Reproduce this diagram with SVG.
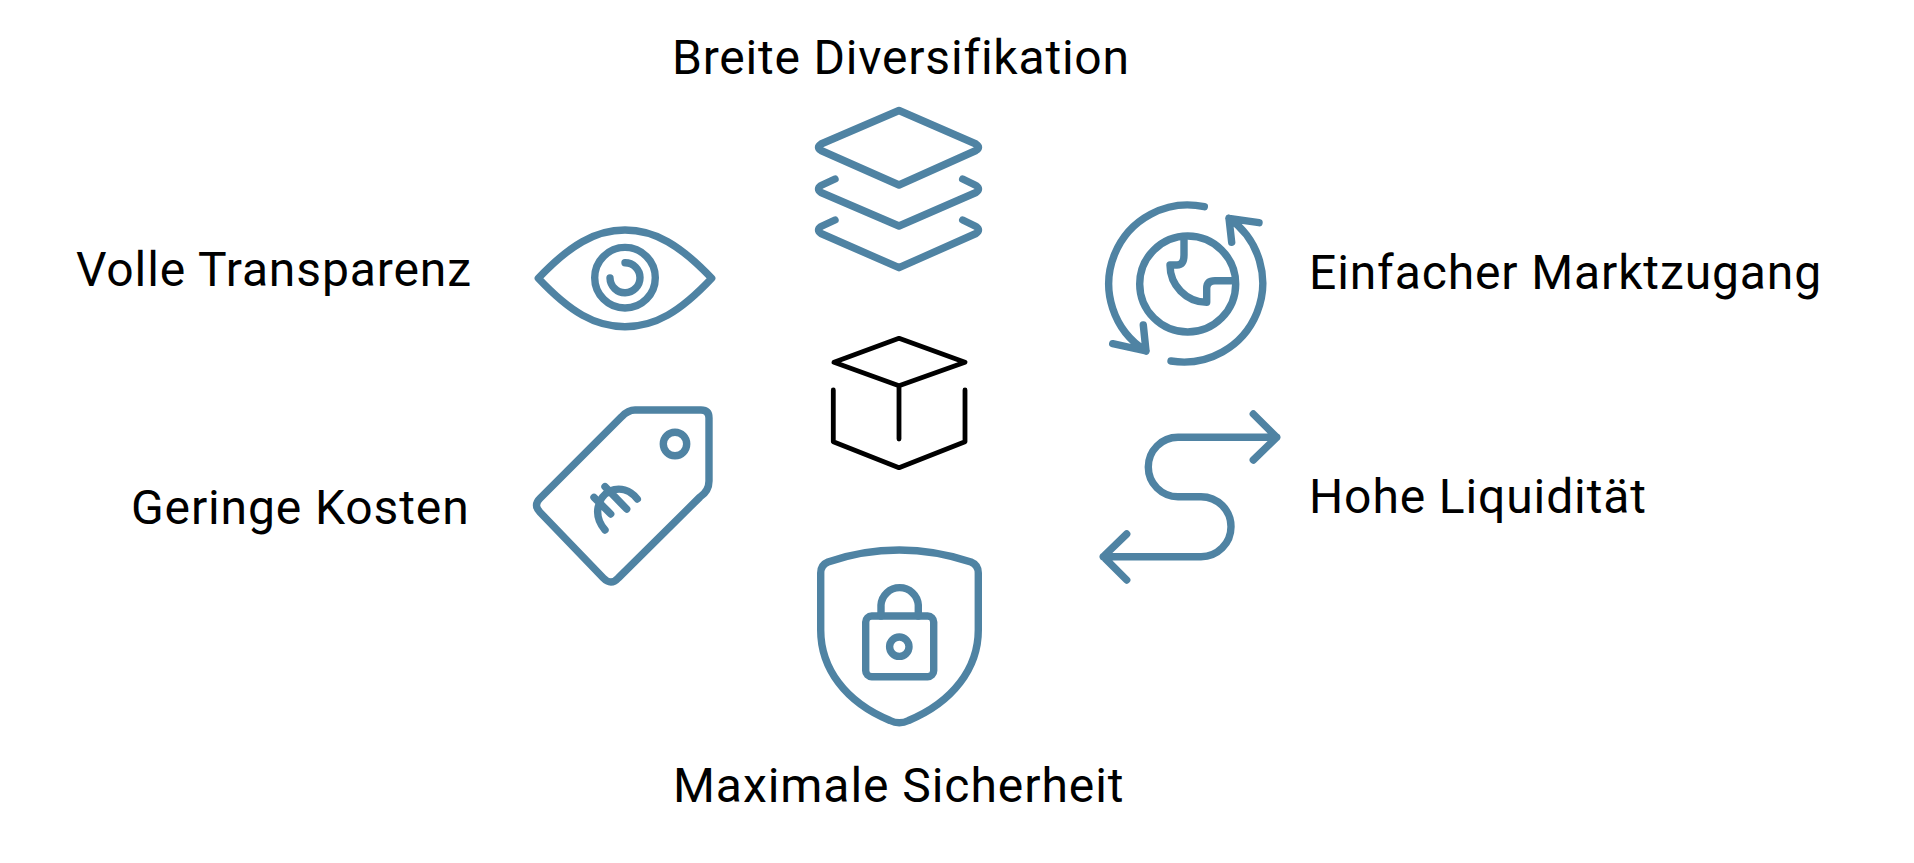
<svg xmlns="http://www.w3.org/2000/svg" width="1914" height="863" viewBox="0 0 1914 863">
<style>
.i{fill:none;stroke:#4F83A3;stroke-width:7.4;stroke-linecap:round;stroke-linejoin:round}
.c{fill:none;stroke:#000;stroke-width:4.8;stroke-linecap:round;stroke-linejoin:round}
text{font-family:Roboto,"Liberation Sans",sans-serif;font-size:48px;letter-spacing:.88px;fill:#000}
</style>
<rect width="1914" height="863" fill="#fff"/>
<g id="center-cube"><path class="c" d="M899 338.3L965 362.3L899 385.7L834 362.3ZM899 385.7V439M833.3 390V441.7L899 467.7L965 441.7V390"/></g>
<g id="breite-diversifikation">
<path class="i" d="M899 110.5L976 144Q981 147.3 976 150.5L899 185L821 150.5Q816 147.3 821 144Z"/>
<path class="i" d="M835 179L821 185.5Q816 189 821 192.5L899 226L976 192.5Q981 189 976 185.5L962.7 179"/>
<path class="i" d="M835 220L821 226.5Q816 230 821 233.5L899 267.7L976 233.5Q981 230 976 226.5L962.7 220"/>
<text x="672" y="74" style="letter-spacing:.8px">Breite Diversifikation</text>
</g>
<g id="einfacher-marktzugang">
<circle class="i" cx="1187.7" cy="284" r="48"/>
<path class="i" d="M1204.3 206.7A79 79 0 0 0 1146 351M1112.7 343.7L1146 351L1143.3 325"/>
<path class="i" d="M1171 361A79 79 0 0 0 1229 218.3M1259 222.7L1229 218.3L1231.7 242.3"/>
<path class="i" d="M1184 240V255Q1184 265 1177 265H1170C1170 285 1186 302.3 1206.7 302.3V288.3Q1206.7 280.7 1215 280.7H1233.3"/>
<text x="1309" y="289">Einfacher Marktzugang</text>
</g>
<g id="hohe-liquiditaet">
<path class="i" d="M1276.7 437.3H1178A29.7 29.7 0 0 0 1178 496.7H1201A30 30 0 0 1 1201 556.7H1103.3M1253.3 414L1276.7 437.3L1253.3 460M1126.7 534L1103.3 556.7L1126.7 580"/>
<text x="1309" y="513">Hohe Liquidität</text>
</g>
<g id="maximale-sicherheit">
<path class="i" d="M899.3 550C872 550 848 555 828 562Q820.7 565 820.7 573V630C820.7 668 845 702 890 720.5Q899.3 725 908.6 720.5C953 702 978.3 668 978.3 630V573Q978.3 565 971 562C950 555 926 550 899.3 550Z"/>
<rect class="i" x="865.7" y="616" width="68" height="60.7" rx="6"/>
<path class="i" d="M881 616V605A18.7 18.7 0 0 1 918.3 605V616"/>
<circle class="i" cx="899.3" cy="646.7" r="9.7"/>
<text x="673" y="802" style="letter-spacing:.95px">Maximale Sicherheit</text>
</g>
<g id="geringe-kosten">
<path class="i" d="M635 410H701Q709 410 709 418V481Q709 491 700 497L618.3 578Q611 586 603.3 578L540 512.3Q533 505 540 498.3L621.7 416.7Q628 410 635 410Z"/>
<circle class="i" cx="675" cy="444" r="11.7"/>
<path class="i" d="M637.3 499C630 490 620 487 610 491C598 497 592 515 605 530M605 486.7L626.7 509M594 497.3L610.7 514"/>
<text x="131" y="524">Geringe Kosten</text>
</g>
<g id="volle-transparenz">
<path class="i" d="M538.3 278.3C570 245 595 230 625 230C655 230 680 245 711.7 278.3C680 312 655 326.7 625 326.7C595 326.7 570 312 538.3 278.3Z"/>
<circle class="i" cx="625" cy="277.7" r="30.3"/>
<path class="i" d="M625 262.7A15 15 0 1 1 610 278"/>
<text x="76" y="286">Volle Transparenz</text>
</g>
</svg>
